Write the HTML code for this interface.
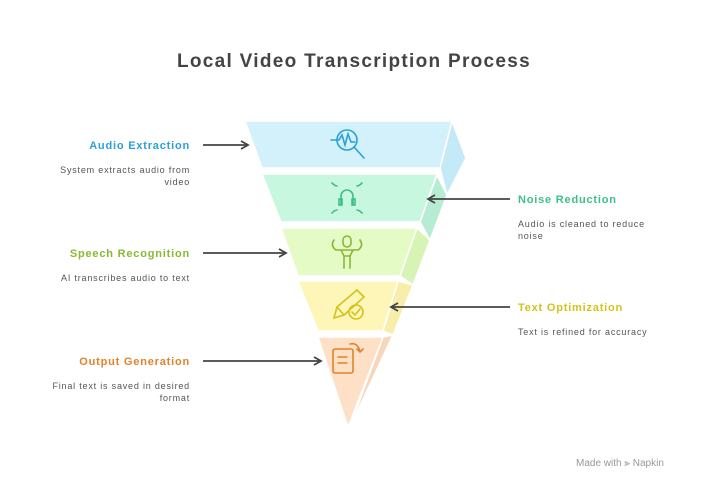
<!DOCTYPE html>
<html><head><meta charset="utf-8"><style>
html,body{margin:0;padding:0;background:#fff;}
body{width:708px;height:492px;position:relative;overflow:hidden;font-family:"Liberation Sans",sans-serif;}
.t{position:absolute;white-space:nowrap;}
.h{font-weight:bold;font-size:11px;letter-spacing:0.8px;}
.d{font-size:9px;color:#555;line-height:12px;letter-spacing:0.8px;}
.r{text-align:right;}
</style></head><body>
<svg width="708" height="492" style="position:absolute;left:0;top:0">
<defs><marker id="a" markerWidth="10" markerHeight="10" refX="8" refY="5" orient="auto" markerUnits="userSpaceOnUse"><path d="M1,1 L8,5 L1,9" fill="none" stroke="#444" stroke-width="1.8"/></marker></defs>
<g stroke="#fff" stroke-width="1.5">
<polygon points="452,121 466,158 447,195 440,168" fill="#c4e9f7"/>
<polygon points="437,175 447,195 430,240 420,222" fill="#b5ecd2"/>
<polygon points="417,228 430,240 413,285 400,276" fill="#d8f3b6"/>
<polygon points="398,281 413,285 393,335 383,331" fill="#f6eeaa"/>
<polygon points="383,337 393,335 350,427" fill="#f7d6ba"/>
<polygon points="245,121 452,121 440,168 262,168" fill="#d3f1fb"/>
<polygon points="262,174 437,174 420,222 281,222" fill="#c8f7e0"/>
<polygon points="281,228 417,228 400,276 298,276" fill="#e4fbc5"/>
<polygon points="298,281 398,281 383,331 318,331" fill="#fdf6b8"/>
<polygon points="318,337 383,337 348,427" fill="#fde0c6"/>
</g>
<g stroke="#444" stroke-width="1.8" fill="none" marker-end="url(#a)">
<line x1="203" y1="145" x2="248" y2="145"/>
<line x1="510" y1="199" x2="428" y2="199"/>
<line x1="203" y1="253" x2="286" y2="253"/>
<line x1="510" y1="307" x2="391" y2="307"/>
<line x1="203" y1="361" x2="321" y2="361"/>
</g>
<g fill="none" stroke-width="1.6" stroke-linecap="round">
<g stroke="#2aa0d4"><circle cx="347" cy="140" r="10"/><line x1="354" y1="147" x2="364" y2="158"/><path d="M331,140 H339 L342,135 L345,145 L348,134 L351,142 H355"/></g>
<g stroke="#3dbf8a"><path d="M341,205 V196 A6,6 0 0 1 353,196 V205"/><rect x="339" y="199" width="3" height="6"/><rect x="352" y="199" width="3" height="6"/><path d="M332,183 q3,3 5,3 M362,183 q-3,3 -5,3 M332,213 q3,-3 5,-3 M362,213 q-3,-3 -5,-3"/></g>
<g stroke="#8ab833"><rect x="343" y="236" width="8" height="11" rx="4"/><path d="M336,250 H358 M341,250 L344,256 V268 M353,250 L350,256 V268 M344,256 H350 M336,250 q-6,-4 -2,-10 M358,250 q6,-4 2,-10"/></g>
<g stroke="#d4c21a"><path d="M334,318 L337,307 L357,290 L364,297 L344,315 Z M337,307 L344,315"/><circle cx="356" cy="312" r="7"/><path d="M352,312 l3,3 l5,-6"/></g>
<g stroke="#e0832a"><rect x="333" y="349" width="20" height="24" rx="2"/><path d="M338,357 h9 M338,363 h9 M350,344 q8,-2 10,8 M357,349 l3,3 3,-3"/></g>
</g>
</svg>
<div class="t" style="left:0;width:708px;top:51px;text-align:center;font-weight:bold;font-size:19px;color:#444;letter-spacing:1.3px">Local Video Transcription Process</div>
<div class="t h r" style="left:30px;width:160px;top:140px;color:#2aa0d4">Audio Extraction</div>
<div class="t d r" style="left:30px;width:160px;top:164px">System extracts audio from<br>video</div>
<div class="t h" style="left:518px;top:194px;color:#3dbf8a">Noise Reduction</div>
<div class="t d" style="left:518px;top:218px">Audio is cleaned to reduce<br>noise</div>
<div class="t h r" style="left:30px;width:160px;top:248px;color:#8ab833">Speech Recognition</div>
<div class="t d r" style="left:30px;width:160px;top:272px">AI transcribes audio to text</div>
<div class="t h" style="left:518px;top:302px;color:#d4c21a">Text Optimization</div>
<div class="t d" style="left:518px;top:326px">Text is refined for accuracy</div>
<div class="t h r" style="left:30px;width:160px;top:356px;color:#e0832a">Output Generation</div>
<div class="t d r" style="left:30px;width:160px;top:380px">Final text is saved in desired<br>format</div>
<div class="t" style="left:576px;top:458px;font-size:10px;color:#999">Made with ⫸ Napkin</div>
</body></html>
